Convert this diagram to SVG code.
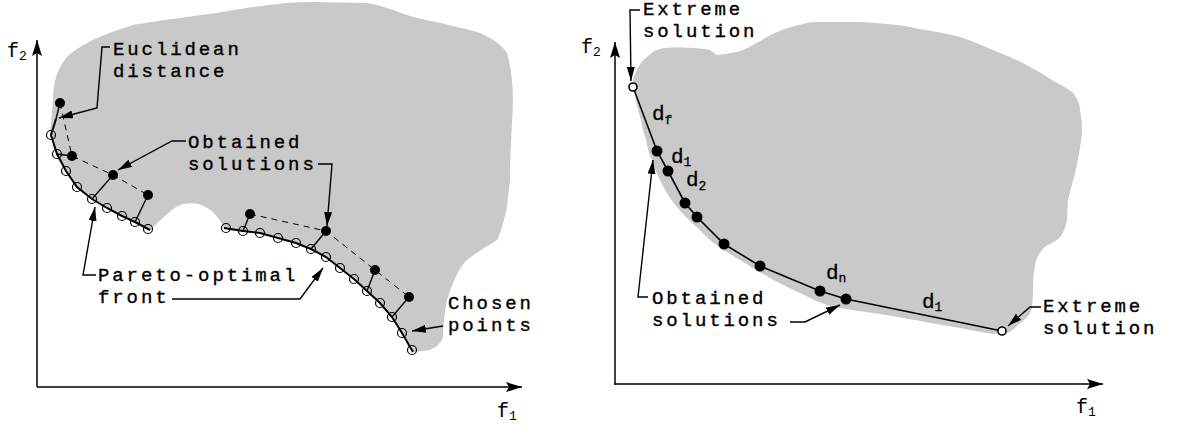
<svg xmlns="http://www.w3.org/2000/svg" width="1178" height="430" viewBox="0 0 1178 430">
<style>
.t{font-family:"Liberation Mono","DejaVu Sans Mono",monospace;font-size:19px;letter-spacing:2.9px;fill:#000;stroke:#000;stroke-width:0.35}
.ax{font-family:"Liberation Mono","DejaVu Sans Mono",monospace;font-size:20px;fill:#000}
.dl{font-family:"Liberation Mono","DejaVu Sans Mono",monospace;font-size:21px;fill:#000;stroke:#000;stroke-width:0.3}
.sub{font-size:13px}
.blob{fill:#c9c9c9;stroke:none}
.ln{fill:none;stroke:#000;stroke-width:1.4}
.axis{fill:none;stroke:#000;stroke-width:1.5}
.dash{fill:none;stroke:#000;stroke-width:1;stroke-dasharray:6 5}
.front{fill:none;stroke:#000;stroke-width:2}
.oc{fill:none;stroke:#000;stroke-width:1.2}
.fc{fill:#000}
</style>
<defs>
<marker id="ah" markerUnits="userSpaceOnUse" markerWidth="16" markerHeight="10" refX="14" refY="4" orient="auto">
<path d="M0,0 L14,4 L0,8 z" fill="#000"/>
</marker>
<marker id="axh" markerUnits="userSpaceOnUse" markerWidth="18" markerHeight="12" refX="16" refY="5" orient="auto">
<path d="M0,0 L16,5 L0,10 L3,5 z" fill="#000"/>
</marker>
</defs>

<!-- LEFT PANEL -->
<g id="left-region">
<path class="blob" d="M50,135 L53,100 C53,85 56,70 67,57 C80,45 100,35 133,25 C160,20 200,16 240,9 C265,5 290,2 313,2 L367,3 C380,5 390,9 413,17 C440,23 460,27 480,33 C495,40 503,46 507,53 C512,70 513,90 513,100 C512,130 510,150 510,180 L507,207 C503,225 500,235 497,240 C490,245 480,250 467,260 C458,268 452,285 447,300 C444,315 443,330 443,337 C441,343 437,347 430,350 L413,352 L402,333 L392,317 L380,303 L367,291 L354,279 L340,268 L326,257 L311,249 L296,243 L278,238 L260,233 L243,231 L224,228 C220,220 215,212 207,208 C200,203 190,202 180,205 C170,210 163,218 150,230 L135,222 L122,216 L107,208 L92,199 L77,187 L66,171 L57,154 Z"/>
</g>

<g id="left-axes">
<line class="axis" x1="37" y1="387" x2="37" y2="40" marker-end="url(#axh)"/>
<line class="axis" x1="37" y1="387" x2="522" y2="387" marker-end="url(#axh)"/>
<text class="ax" x="7" y="57">f<tspan class="sub" dy="3">2</tspan></text>
<text class="ax" x="497" y="417">f<tspan class="sub" dy="3">1</tspan></text>
</g>

<g id="left-fronts">
<polyline class="front" points="56,119 51,135 57,154 66,171 77,187 92,199 107,208 122,216 135,222 150,230"/>
<polyline class="front" points="224,228 243,231 260,233 278,238 296,243 311,249 326,257 340,268 354,279 367,291 380,303 392,317 402,333 413,352"/>
</g>

<g id="left-distances">
<polyline class="dash" points="60,103 72,156 113,175 148,195"/>
<polyline class="dash" points="250,214 326,231 375,270 409,297"/>
<line class="ln" x1="60" y1="103" x2="56" y2="119"/>
<line class="ln" x1="72" y1="156" x2="57" y2="154"/>
<line class="ln" x1="113" y1="175" x2="92" y2="199"/>
<line class="ln" x1="148" y1="195" x2="135" y2="222"/>
<line class="ln" x1="250" y1="214" x2="243" y2="231"/>
<line class="ln" x1="326" y1="231" x2="311" y2="249"/>
<line class="ln" x1="375" y1="270" x2="367" y2="291"/>
<line class="ln" x1="409" y1="297" x2="392" y2="317"/>
</g>

<g id="left-chosen-points">
<circle class="oc" cx="51" cy="135" r="4.5"/>
<circle class="oc" cx="57" cy="154" r="4.5"/>
<circle class="oc" cx="66" cy="171" r="4.5"/>
<circle class="oc" cx="77" cy="187" r="4.5"/>
<circle class="oc" cx="92" cy="199" r="4.5"/>
<circle class="oc" cx="107" cy="208" r="4.5"/>
<circle class="oc" cx="122" cy="216" r="4.5"/>
<circle class="oc" cx="135" cy="222" r="4.5"/>
<circle class="oc" cx="148" cy="229" r="4.5"/>
<circle class="oc" cx="226" cy="228" r="4.5"/>
<circle class="oc" cx="243" cy="231" r="4.5"/>
<circle class="oc" cx="260" cy="233" r="4.5"/>
<circle class="oc" cx="278" cy="238" r="4.5"/>
<circle class="oc" cx="296" cy="243" r="4.5"/>
<circle class="oc" cx="311" cy="249" r="4.5"/>
<circle class="oc" cx="326" cy="257" r="4.5"/>
<circle class="oc" cx="340" cy="268" r="4.5"/>
<circle class="oc" cx="354" cy="279" r="4.5"/>
<circle class="oc" cx="367" cy="291" r="4.5"/>
<circle class="oc" cx="380" cy="303" r="4.5"/>
<circle class="oc" cx="392" cy="317" r="4.5"/>
<circle class="oc" cx="402" cy="333" r="4.5"/>
<circle class="oc" cx="412" cy="350" r="4.5"/>
</g>

<g id="left-obtained-points">
<circle class="fc" cx="60" cy="103" r="5"/>
<circle class="fc" cx="72" cy="156" r="5"/>
<circle class="fc" cx="113" cy="175" r="5"/>
<circle class="fc" cx="148" cy="195" r="5"/>
<circle class="fc" cx="250" cy="214" r="5"/>
<circle class="fc" cx="326" cy="231" r="5"/>
<circle class="fc" cx="375" cy="270" r="5"/>
<circle class="fc" cx="409" cy="297" r="5"/>
</g>

<g id="label-euclidean">
<text class="t" x="113" y="55">Euclidean</text>
<text class="t" x="113" y="77">distance</text>
</g>
<g id="label-obtained-left">
<text class="t" x="188" y="148">Obtained</text>
<text class="t" x="188" y="170">solutions</text>
</g>
<g id="label-pareto">
<text class="t" x="98" y="281">Pareto-optimal</text>
<text class="t" x="98" y="303">front</text>
</g>
<g id="label-chosen">
<text class="t" x="448" y="309">Chosen</text>
<text class="t" x="448" y="331">points</text>
</g>

<!-- RIGHT PANEL -->
<g id="right-region">
<path class="blob" d="M633,80 C636,70 640,62 647,57 C652,52 656,49 665,48 C680,47 700,48 710,50 L717,55 C725,54 735,53 743,50 C752,46 760,41 767,37 C778,31 790,26 813,22 L860,22 C880,23 900,25 910,27 C930,31 945,33 960,37 C980,44 995,51 1010,57 C1025,64 1040,72 1047,77 C1058,84 1068,88 1073,93 C1078,99 1080,105 1080,110 C1082,120 1082,130 1082,133 C1080,150 1077,165 1075,173 C1072,185 1069,195 1068,200 L1067,220 C1065,230 1062,236 1057,240 C1050,244 1045,246 1042,250 C1037,256 1035,262 1035,267 C1033,275 1033,283 1033,290 C1033,300 1032,308 1030,313 C1027,318 1024,320 1020,323 C1015,328 1012,331 1008,333 L993,334 C980,332 970,330 960,328 C930,323 900,317 880,314 C860,311 845,309 833,307 C820,303 810,298 800,293 C785,286 775,281 770,278 C760,272 752,268 745,263 C735,257 728,253 722,249 C712,242 705,236 700,230 C693,224 688,219 683,214 C678,208 674,204 670,198 C666,192 663,186 660,180 C657,174 654,166 652,160 C649,153 647,147 646,140 C644,134 642,127 641,120 C639,113 637,107 636,100 Z"/>
</g>

<g id="right-axes">
<line class="axis" x1="615" y1="385" x2="615" y2="42" marker-end="url(#axh)"/>
<line class="axis" x1="615" y1="384" x2="1103" y2="384" marker-end="url(#axh)"/>
<text class="ax" x="581" y="53">f<tspan class="sub" dy="3">2</tspan></text>
<text class="ax" x="1076" y="413">f<tspan class="sub" dy="3">1</tspan></text>
</g>

<g id="right-front">
<polyline class="front" points="633,87 657,151 668,171 685,203 697,217 724,244 760,266 820,291 846,299 1002,331" style="stroke-width:1.6"/>
</g>

<g id="right-extreme-points">
<circle cx="633" cy="87" r="4" fill="#fff" stroke="#000" stroke-width="1.6"/>
<circle cx="1002" cy="331" r="4" fill="#fff" stroke="#000" stroke-width="1.6"/>
</g>

<g id="right-obtained-points">
<circle class="fc" cx="657" cy="151" r="5.5"/>
<circle class="fc" cx="668" cy="171" r="5.5"/>
<circle class="fc" cx="685" cy="203" r="5.5"/>
<circle class="fc" cx="697" cy="217" r="5.5"/>
<circle class="fc" cx="724" cy="244" r="5.5"/>
<circle class="fc" cx="760" cy="266" r="5.5"/>
<circle class="fc" cx="820" cy="291" r="5.5"/>
<circle class="fc" cx="846" cy="299" r="5.5"/>
</g>

<g id="right-distance-labels">
<text class="dl" x="652" y="120">d<tspan class="sub" dy="4">f</tspan></text>
<text class="dl" x="671" y="163">d<tspan class="sub" dy="3">1</tspan></text>
<text class="dl" x="686" y="186">d<tspan class="sub" dy="4">2</tspan></text>
<text class="dl" x="826" y="279">d<tspan class="sub" dy="3">n</tspan></text>
<text class="dl" x="922" y="308">d<tspan class="sub" dy="3">1</tspan></text>
</g>

<g id="label-extreme-top">
<text class="t" x="643" y="15">Extreme</text>
<text class="t" x="643" y="37">solution</text>
</g>
<g id="label-obtained-right">
<text class="t" x="652" y="304">Obtained</text>
<text class="t" x="652" y="326">solutions</text>
</g>
<g id="label-extreme-bottom">
<text class="t" x="1043" y="312">Extreme</text>
<text class="t" x="1043" y="334">solution</text>
</g>

<g id="connectors">
<polyline class="ln" points="110,47 102,47 97,108 59,118" marker-end="url(#ah)"/>
<polyline class="ln" points="186,141 172,141 118,170" marker-end="url(#ah)"/>
<polyline class="ln" points="318,164 332,164 327,226" marker-end="url(#ah)"/>
<polyline class="ln" points="96,275 83,275 95,207" marker-end="url(#ah)"/>
<polyline class="ln" points="172,299 300,299 323,268" marker-end="url(#ah)"/>
<polyline class="ln" points="443,326 412,331" marker-end="url(#ah)"/>
<polyline class="ln" points="640,10 630,10 631,81" marker-end="url(#ah)"/>
<polyline class="ln" points="648,297 638,297 653,160" marker-end="url(#ah)"/>
<polyline class="ln" points="790,322 805,322 840,305" marker-end="url(#ah)"/>
<polyline class="ln" points="1041,307 1030,307 1008,326" marker-end="url(#ah)"/>
</g>
</svg>
